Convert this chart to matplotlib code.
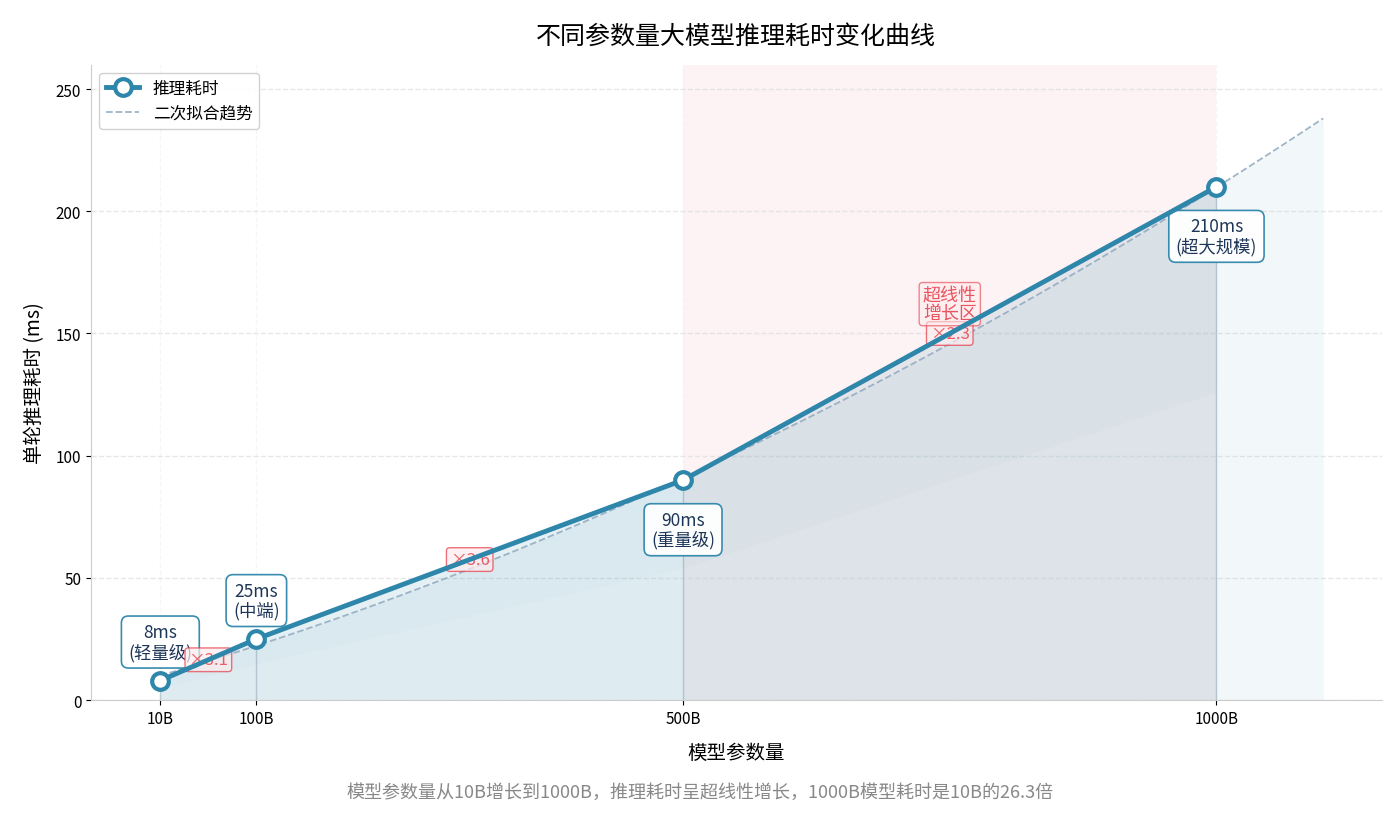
import numpy as np
import matplotlib
matplotlib.use("Agg")
from matplotlib import pyplot as plt

plt.rcParams['font.family'] = ['Noto Sans CJK SC', 'DejaVu Sans']
plt.rcParams['axes.unicode_minus'] = False

# data
params = [10, 100, 500, 1000]
param_labels = ['10B', '100B', '500B', '1000B']
latency = [8, 25, 90, 210]
point_notes = ['轻量级', '中端', '重量级', '超大规模']
note_below = [False, False, True, True]

main_color = '#2E86AB'
red = '#E63946'

x = np.array(params, dtype=float)
y = np.array(latency, dtype=float)

fig = plt.figure(figsize=(14, 8.2), dpi=100)
ax = fig.add_subplot(111)

# super-linear zone
ax.axvspan(500, 1000, color=red, alpha=0.06, lw=0, zorder=0)

# quadratic fit trend
coef = np.polyfit(x, y, 2)
x_fit = np.linspace(10, 1100, 200)
y_fit = np.polyval(coef, x_fit)
ax.fill_between(x_fit, 0, y_fit, color='#9CC3CF', alpha=0.12, lw=0, zorder=1)

# fills under the curve
ax.fill_between(x, 0, y, color=main_color, alpha=0.12, lw=0, zorder=1)
ax.fill_between(x, 0, y * 0.6, color='white', alpha=0.12, lw=0, zorder=1)

line, = ax.plot(x, y, '-o', color=main_color, lw=3.5, markersize=12, markerfacecolor='white',
                markeredgewidth=3, markeredgecolor=main_color, label='推理耗时', zorder=5)
trend, = ax.plot(x_fit, y_fit, '--', color='#8FA9BF', lw=1.3, alpha=0.85, label='二次拟合趋势', zorder=2)

for xi, yi in zip(x, y):
    ax.vlines(xi, 0, yi, color='#9AAFBD', lw=1, alpha=0.6, zorder=2)

# value labels
for xi, yi, note, below in zip(x, y, point_notes, note_below):
    off = -22 if below else 14
    ax.annotate(f'{int(yi)}ms\n({note})', (xi, yi), xytext=(0, off), textcoords='offset points',
                ha='center', va='top' if below else 'bottom', fontsize=12.5, color='#1D3557',
                bbox=dict(boxstyle='round,pad=0.4', fc='white', ec=main_color, lw=1.2, alpha=0.95),
                zorder=3, linespacing=1.1)

# growth ratios
for i in range(len(x) - 1):
    mx = (x[i] + x[i + 1]) / 2
    my = (y[i] + y[i + 1]) / 2
    r = y[i + 1] / y[i]
    ax.text(mx, my, f'×{r:.1f}', ha='center', va='center', fontsize=12, color=red, alpha=0.8,
            bbox=dict(boxstyle='round,pad=0.2', fc='#FDECEE', ec=red, lw=1, alpha=0.7), zorder=4)

ax.text(750, 162, '超线性\n增长区', ha='center', va='center', fontsize=13, color=red, alpha=0.85,
        linespacing=1.0,
        bbox=dict(boxstyle='round,pad=0.2', fc='#FDECEE', ec=red, lw=1, alpha=0.6), zorder=4)

ax.set_xlim(-55, 1155)
ax.set_ylim(0, 260)
ax.set_xticks(params)
ax.set_xticklabels(param_labels, fontsize=11)
ax.set_yticks([0, 50, 100, 150, 200, 250])
ax.tick_params(axis='y', labelsize=11)
ax.grid(True, axis='y', ls='--', color='#DDDDDD', alpha=0.7, lw=1)
ax.grid(True, axis='x', ls='--', color='#EEEEEE', alpha=0.5, lw=1)
ax.set_axisbelow(True)

for s in ['top', 'right']:
    ax.spines[s].set_visible(False)
for s in ['left', 'bottom']:
    ax.spines[s].set_color('#CCCCCC')

ax.set_xlabel('模型参数量', fontsize=14, labelpad=11)
ax.set_ylabel('单轮推理耗时 (ms)', fontsize=14, labelpad=8)
ax.set_title('不同参数量大模型推理耗时变化曲线', fontsize=18, pad=16)

ax.legend(handles=[line, trend], loc='upper left', fontsize=12, framealpha=0.9, edgecolor='#CCCCCC')

fig.text(0.5, 0.027, '模型参数量从10B增长到1000B，推理耗时呈超线性增长，1000B模型耗时是10B的26.3倍',
         ha='center', fontsize=13, color='#888888')

fig.subplots_adjust(left=0.065, right=0.987, top=0.92, bottom=0.145)
fig.savefig('out.png', dpi=100)
